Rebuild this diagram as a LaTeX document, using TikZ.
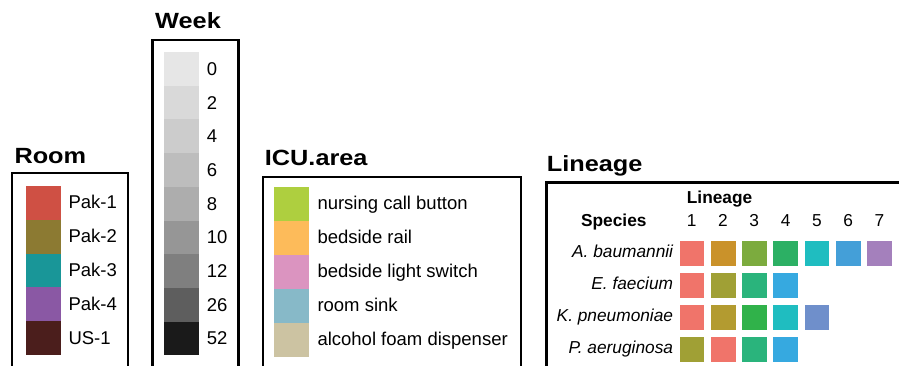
\documentclass[tikz,border=0pt]{standalone}
\usepackage{fontspec}
\setmainfont{Liberation Sans}
\usepackage{graphicx}

% Room colours
\definecolor{roomA}{HTML}{CF5044}
\definecolor{roomB}{HTML}{8C7A32}
\definecolor{roomC}{HTML}{199698}
\definecolor{roomD}{HTML}{8A58A4}
\definecolor{roomE}{HTML}{4B1E1C}
% Week greys
\definecolor{wk0}{HTML}{E6E6E6}
\definecolor{wk2}{HTML}{D9D9D9}
\definecolor{wk4}{HTML}{CCCCCC}
\definecolor{wk6}{HTML}{BDBDBD}
\definecolor{wk8}{HTML}{ADADAD}
\definecolor{wk10}{HTML}{969696}
\definecolor{wk12}{HTML}{7F7F7F}
\definecolor{wk26}{HTML}{5E5E5E}
\definecolor{wk52}{HTML}{1A1A1A}
% ICU area colours
\definecolor{icuA}{HTML}{AECF3F}
\definecolor{icuB}{HTML}{FDBB5A}
\definecolor{icuC}{HTML}{DB94C0}
\definecolor{icuD}{HTML}{87B9C8}
\definecolor{icuE}{HTML}{CCC3A2}
% Lineage colours
\definecolor{lnRed}{HTML}{F0746A}
\definecolor{lnOrange}{HTML}{CA922A}
\definecolor{lnOlive}{HTML}{7CAB3E}
\definecolor{lnGreen}{HTML}{2CB064}
\definecolor{lnTeal}{HTML}{1FBDC0}
\definecolor{lnBlue}{HTML}{449FD8}
\definecolor{lnPurple}{HTML}{A480BC}
\definecolor{lnKhaki}{HTML}{A0A035}
\definecolor{lnJade}{HTML}{2AB47C}
\definecolor{lnSky}{HTML}{36A9E0}
\definecolor{lnGold}{HTML}{B39B30}
\definecolor{lnLeaf}{HTML}{30B24A}
\definecolor{lnSlate}{HTML}{6F8FCB}

\newcommand{\legendhead}[1]{\scalebox{1.15}[1]{\fontsize{22}{26}\selectfont\bfseries #1}}

\tikzset{
  legendframe/.style={draw=black, line width=2.2pt},
  headtext/.style={inner sep=0pt, anchor=base west},
  keybox/.style={draw=none, inner sep=0pt, outer sep=0pt, minimum width=35pt,
    minimum height=#1, anchor=north west},
  keylabel/.style={inner sep=0pt, anchor=base west, font=\fontsize{18.5}{20}\selectfont},
  gridsq/.style={draw=none, inner sep=0pt, minimum size=24.7pt, anchor=north west},
  gridtext/.style={inner sep=0pt, font=\fontsize{17.3}{19}\selectfont},
}

\begin{document}
\begin{tikzpicture}[x=1pt, y=-1pt]
\useasboundingbox (0,0) rectangle (899,366);
\clip (0,0) rectangle (899,366);

% ---------- Room ----------
\node[headtext] (roomhead) at (14.3,164) {\legendhead{Room}};
\draw[legendframe] (12,380) -- (12,173) -- (128,173) -- (128,380);
\foreach \c/\t [count=\i from 0] in {roomA/Pak-1, roomB/Pak-2, roomC/Pak-3, roomD/Pak-4, roomE/US-1} {
  \node[keybox=33.9pt, fill=\c] (room\i) at (25.5,{186+33.8*\i}) {};
  \node[keylabel] (roomlab\i) at (68.3,{186+33.8*\i+16.9+6}) {\t};
}

% ---------- Week ----------
\node[headtext] (weekhead) at (155,28.3) {\legendhead{Week}};
\draw[legendframe] (152.5,380) -- (152.5,40) -- (238.5,40) -- (238.5,380);
\foreach \c/\t [count=\i from 0] in {wk0/0, wk2/2, wk4/4, wk6/6, wk8/8, wk10/10, wk12/12, wk26/26, wk52/52} {
  \node[keybox=33.8pt, fill=\c] (week\i) at (164,{52+33.7*\i}) {};
  \node[keylabel] (weeklab\i) at (206.7,{52+33.7*\i+16.85+6.5}) {\t};
}

% ---------- ICU.area ----------
\node[headtext] (icuhead) at (264.7,166) {\legendhead{ICU.area}};
\draw[legendframe] (263,380) -- (263,177) -- (520.7,177) -- (520.7,380);
\foreach \c/\t [count=\i from 0] in {icuA/nursing call button, icuB/bedside rail,
    icuC/bedside light switch, icuD/room sink, icuE/alcohol foam dispenser} {
  \node[keybox=34.1pt, fill=\c] (icu\i) at (274,{187+34*\i}) {};
  \node[keylabel] (iculab\i) at (317.3,{187+34*\i+17+5}) {\t};
}

% ---------- Lineage ----------
\node[headtext] (linhead) at (546.7,171.7) {\legendhead{Lineage}};
\draw[legendframe] (546.5,380) -- (546.5,182.5) -- (905,182.5);

\node[gridtext, anchor=base west] (colhead) at (686.7,203.5) {\bfseries Lineage};
\node[gridtext, anchor=base east] (rowhead) at (646.7,226.7) {\bfseries Species};
\foreach \n in {1,...,7} {
  \node[gridtext, anchor=base] (num\n) at ({679.3+31.3*(\n-1)+12.35},226.7) {\n};
}

\node[gridtext, anchor=base east] (spA) at (673.3,257.5) {\itshape A. baumannii};
\node[gridtext, anchor=base east] (spE) at (673.3,289.3) {\itshape E. faecium};
\node[gridtext, anchor=base east] (spK) at (673.3,321.3) {\itshape K. pneumoniae};
\node[gridtext, anchor=base east] (spP) at (673.3,353.3) {\itshape P. aeruginosa};

\foreach \c [count=\i] in {lnRed, lnOrange, lnOlive, lnGreen, lnTeal, lnBlue, lnPurple}
  \node[gridsq, fill=\c] (sqA\i) at ({679.3+31.3*(\i-1)},240.7) {};
\foreach \c [count=\i] in {lnRed, lnKhaki, lnJade, lnSky}
  \node[gridsq, fill=\c] (sqE\i) at ({679.3+31.3*(\i-1)},272.7) {};
\foreach \c [count=\i] in {lnRed, lnGold, lnLeaf, lnTeal, lnSlate}
  \node[gridsq, fill=\c] (sqK\i) at ({679.3+31.3*(\i-1)},304.9) {};
\foreach \c [count=\i] in {lnKhaki, lnRed, lnJade, lnSky}
  \node[gridsq, fill=\c] (sqP\i) at ({679.3+31.3*(\i-1)},336.7) {};

\end{tikzpicture}
\end{document}
